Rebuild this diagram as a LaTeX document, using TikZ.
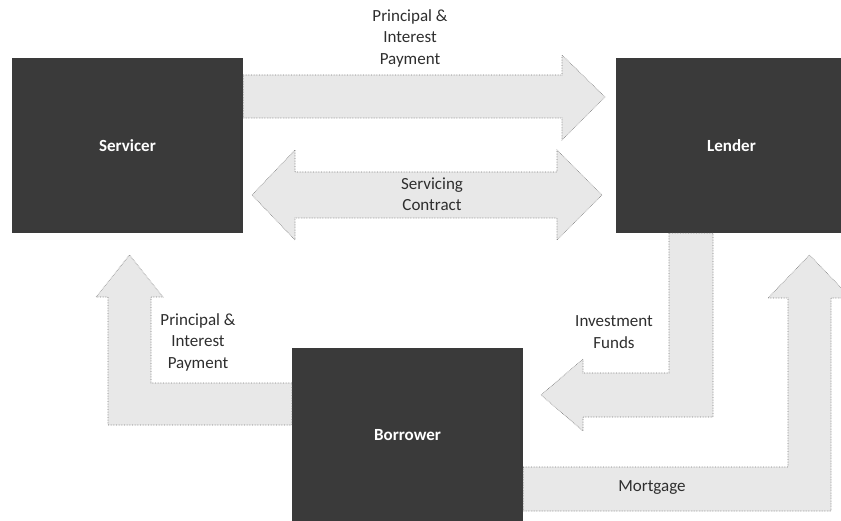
\documentclass[tikz,border=0pt]{standalone}
\usepackage{fontspec}
\setmainfont{Carlito}
\definecolor{boxgray}{HTML}{3A3A3A}
\definecolor{arrowfill}{HTML}{E8E8E8}
\definecolor{arrowline}{HTML}{7A7A7A}
\definecolor{labeltext}{HTML}{2E2E2E}
\begin{document}
\begin{tikzpicture}[x=1pt,y=-1pt,
  party/.style={draw=none,fill=boxgray,minimum width=231pt,minimum height=175pt,
    inner sep=0pt,text=white,font=\fontsize{17}{20}\selectfont\bfseries},
  blockarrow/.style={fill=arrowfill,draw=arrowline,line width=0.6pt,densely dotted,line join=miter},
  flowlabel/.style={align=center,text=labeltext,font=\fontsize{17}{21.5}\selectfont,inner sep=0pt}]
\useasboundingbox (0,0) rectangle (841,521);
\clip (0,0) rectangle (841,521);
% parties
\node[party] (ser) at (127.5,145.5) {Servicer};
\node[party] (len) at (731.5,145.5) {Lender};
\node[party] (bor) at (407.5,435.5) {Borrower};
% Servicer -> Lender : principal & interest
\draw[blockarrow] (ser.east |- 0,75) -- (562,75) -- (562,55) -- (605,97) -- (562,140) -- (562,118) -- (ser.east |- 0,118) -- cycle;
% Servicing contract (double)
\draw[blockarrow] (252,195) -- (295,150) -- (295,172) -- (557,172) -- (557,150) -- (602,195) -- (557,240) -- (557,218) -- (295,218) -- (295,240) -- cycle;
% Lender -> Borrower : investment funds
\draw[blockarrow] (669,0 |- len.south) -- (713,0 |- len.south) -- (713,417) -- (583,417) -- (583,431) -- (541,395) -- (583,359) -- (583,373) -- (669,373) -- cycle;
% Borrower -> Lender : mortgage
\draw[blockarrow] (bor.east |- 0,467) -- (788,467) -- (788,298) -- (768,298) -- (809.5,255) -- (851,298) -- (831,298) -- (831,511) -- (bor.east |- 0,511) -- cycle;
% Borrower -> Servicer : principal & interest
\draw[blockarrow] (bor.west |- 0,383) -- (151,383) -- (151,297) -- (163,297) -- (129.5,255) -- (96,297) -- (108,297) -- (108,425) -- (bor.west |- 0,425) -- cycle;
% labels
\node[flowlabel] (lbl1) at (410,38) {Principal \&\\Interest\\Payment};
\node[flowlabel] (lbl2) at (432,194) {Servicing\\Contract};
\node[flowlabel] (lbl3) at (198,342) {Principal \&\\Interest\\Payment};
\node[flowlabel] (lbl4) at (614,332) {Investment\\Funds};
\node[flowlabel] (lbl5) at (652,488) {Mortgage};
\end{tikzpicture}
\end{document}
